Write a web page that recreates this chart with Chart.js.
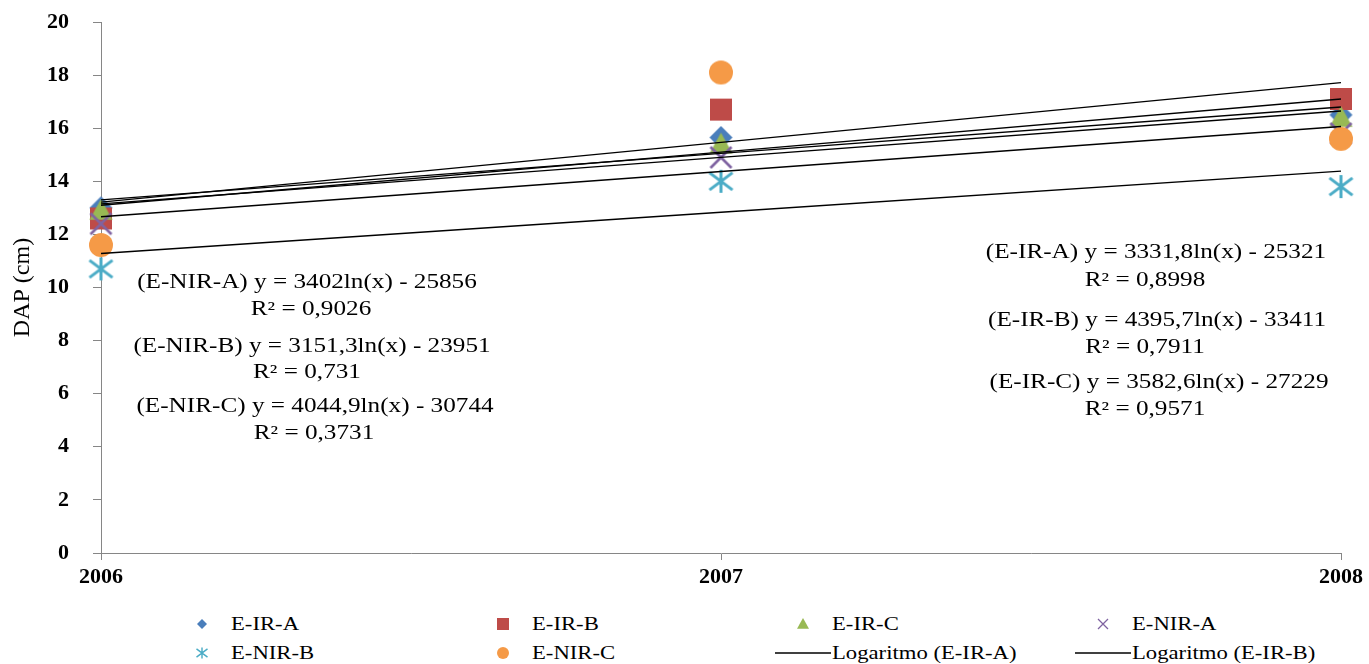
<!DOCTYPE html>
<html>
<head>
<meta charset="utf-8">
<script src="https://cdn.jsdelivr.net/npm/chart.js@4.4.1/dist/chart.umd.min.js"></script>
<style>
  html, body { margin: 0; padding: 0; background: #fff; overflow: hidden; width: 1369px; height: 664px; }
  #wrap { position: absolute; left: 0; top: 0; width: 1369px; height: 600px; }
  .legSym { position: absolute; }
  .legText { position: absolute; font: 18px 'Liberation Serif', 'Times New Roman', serif; color: #000;
             white-space: nowrap; line-height: 22px; transform: scaleX(1.26); transform-origin: left center; }
</style>
</head>
<body>
<div id="wrap"><canvas id="chartDap"></canvas></div>
<div id="legend"></div>
<script>
// data
var years = [2006, 2007, 2008];
var seriesNames = ["E-IR-A", "E-IR-B", "E-IR-C", "E-NIR-A", "E-NIR-B", "E-NIR-C"];
var eIrA  = [13.0, 15.65, 16.5];
var eIrB  = [12.6, 16.7, 17.1];
var eIrC  = [12.9, 15.4, 16.4];
var eNirA = [12.4, 14.9, 15.8];
var eNirB = [10.7, 14.0, 13.8];
var eNirC = [11.6, 18.1, 15.6];
var seriesValues = [eIrA, eIrB, eIrC, eNirA, eNirB, eNirC];
var seriesColors = ["#4a7ebb", "#be4b48", "#98b954", "#7f63a1", "#4bacc6", "#f59a47"];
var seriesMarkers = ["diamond", "square", "triangle", "cross", "asterisk", "circle"];

var yMin = 0, yMax = 20, yStep = 2;
var yTitle = "DAP (cm)";

var noteTexts = [
  "(E-NIR-A) y = 3402ln(x) - 25856", "R\u00b2 = 0,9026",
  "(E-NIR-B) y = 3151,3ln(x) - 23951", "R\u00b2 = 0,731",
  "(E-NIR-C) y = 4044,9ln(x) - 30744", "R\u00b2 = 0,3731",
  "(E-IR-A) y = 3331,8ln(x) - 25321", "R\u00b2 = 0,8998",
  "(E-IR-B) y = 4395,7ln(x) - 33411", "R\u00b2 = 0,7911",
  "(E-IR-C) y = 3582,6ln(x) - 27229", "R\u00b2 = 0,9571"
];
// where the text boxes sit (pixels, centre x / middle y)
var notePlaces = [
  [307, 283], [311, 310], [312, 347], [307, 373], [315, 407], [314, 434],
  [1156, 253], [1145, 281], [1157, 321], [1145, 348], [1159, 383], [1145, 410]
];
var textStretch = 1.26;
var serif = "'Liberation Serif', 'Times New Roman', serif";

function drawMarker(ctx, kind, cx, cy, s, color) {
  ctx.fillStyle = color;
  ctx.strokeStyle = color;
  ctx.beginPath();
  if (kind == "diamond") {
    ctx.moveTo(cx, cy - s); ctx.lineTo(cx + s, cy); ctx.lineTo(cx, cy + s); ctx.lineTo(cx - s, cy);
    ctx.closePath(); ctx.fill();
  } else if (kind == "square") {
    ctx.fillRect(cx - s, cy - s, 2 * s, 2 * s);
  } else if (kind == "triangle") {
    ctx.moveTo(cx, cy - s); ctx.lineTo(cx + s, cy + s * 0.8); ctx.lineTo(cx - s, cy + s * 0.8);
    ctx.closePath(); ctx.fill();
  } else if (kind == "circle") {
    ctx.arc(cx, cy, s, 0, Math.PI * 2); ctx.fill();
  } else if (kind == "cross") {
    ctx.lineWidth = Math.max(1.2, s / 4);
    ctx.moveTo(cx - s, cy - s); ctx.lineTo(cx + s, cy + s);
    ctx.moveTo(cx + s, cy - s); ctx.lineTo(cx - s, cy + s);
    ctx.stroke();
  } else if (kind == "asterisk") {
    ctx.lineWidth = Math.max(1.2, s / 3.8);
    ctx.moveTo(cx, cy - s); ctx.lineTo(cx, cy + s);
    ctx.moveTo(cx - s, cy - s * 0.75); ctx.lineTo(cx + s, cy + s * 0.75);
    ctx.moveTo(cx + s, cy - s * 0.75); ctx.lineTo(cx - s, cy + s * 0.75);
    ctx.stroke();
  }
}

var plotSizes = { diamond: 11.5, square: 11, triangle: 11.5, circle: 12, cross: 10.5, asterisk: 11.5 };
var legendSizes = { diamond: 5, square: 6, triangle: 6, circle: 6, cross: 5, asterisk: 5.5 };

function markerCanvas(kind, s, color) {
  var c = document.createElement("canvas");
  var size = Math.ceil(2 * s + 4);
  c.width = size; c.height = size;
  drawMarker(c.getContext("2d"), kind, size / 2, size / 2, s, color);
  return c;
}

// logarithmic trend, as in the spreadsheet: y = a ln(x) + b
function logFit(xs, ys) {
  var lx = xs.map(function (x) { return Math.log(x); });
  var mx = lx.reduce(function (a, b) { return a + b; }, 0) / lx.length;
  var my = ys.reduce(function (a, b) { return a + b; }, 0) / ys.length;
  var sxy = 0, sxx = 0;
  for (var i = 0; i < lx.length; i++) {
    sxy += (lx[i] - mx) * (ys[i] - my);
    sxx += (lx[i] - mx) * (lx[i] - mx);
  }
  var a = sxy / sxx;
  return { a: a, b: my - a * mx };
}

var datasets = [];
seriesNames.forEach(function (name, i) {
  datasets.push({
    label: name,
    data: years.map(function (x, j) { return { x: x, y: seriesValues[i][j] }; }),
    showLine: false,
    pointStyle: markerCanvas(seriesMarkers[i], plotSizes[seriesMarkers[i]], seriesColors[i]),
    pointRadius: 12,
    clip: false,
    order: 20 - i
  });
});
seriesNames.forEach(function (name, i) {
  var fit = logFit(years, seriesValues[i]);
  datasets.push({
    label: "Logaritmo (" + name + ")",
    data: years.map(function (x) { return { x: x, y: fit.a * Math.log(x) + fit.b }; }),
    showLine: true,
    borderColor: "#000",
    borderWidth: 1.4,
    pointRadius: 0,
    tension: 0,
    clip: false,
    order: 6 - i
  });
});

var notesPlugin = {
  id: "notes",
  afterDatasetsDraw: function (chart) {
    var ctx = chart.ctx;
    ctx.save();
    ctx.font = "20px " + serif;
    ctx.fillStyle = "#000";
    ctx.textAlign = "center";
    ctx.textBaseline = "middle";
    noteTexts.forEach(function (t, i) {
      ctx.save();
      ctx.translate(notePlaces[i][0], notePlaces[i][1]);
      ctx.scale(textStretch, 1);
      ctx.fillText(t, 0, 0);
      ctx.restore();
    });
    ctx.restore();
  }
};

new Chart("chartDap", {
  type: "scatter",
  data: { datasets: datasets },
  plugins: [notesPlugin],
  options: {
    responsive: true,
    maintainAspectRatio: false,
    animation: false,
    events: [],
    layout: { padding: { top: 22, right: 28, left: 0, bottom: 0 } },
    plugins: { legend: { display: false }, tooltip: { enabled: false } },
    scales: {
      x: {
        type: "linear",
        min: years[0],
        max: years[years.length - 1],
        ticks: {
          stepSize: 1,
          callback: function (v) { return String(v); },
          color: "#000",
          padding: 4,
          maxRotation: 0,
          font: { family: serif, size: 22, weight: "bold" }
        },
        grid: { drawOnChartArea: false, color: "#868686", tickLength: 7 },
        border: { color: "#868686", width: 1 },
        afterFit: function (s) { s.height = 47; }
      },
      y: {
        min: yMin,
        max: yMax,
        ticks: {
          stepSize: yStep,
          color: "#000",
          padding: 24,
          font: { family: serif, size: 22, weight: "bold" }
        },
        grid: { drawOnChartArea: false, color: "#868686", tickLength: 8 },
        border: { color: "#868686", width: 1 },
        title: {
          display: true,
          text: yTitle,
          color: "#000",
          font: { family: serif, size: 24 },
          padding: { top: 8, bottom: 0 }
        },
        afterFit: function (s) {
          s.width = 101;
          s.paddingTop = 0;
          s.paddingBottom = 0;
        }
      }
    }
  }
});

// legend laid out like the spreadsheet one: 4 columns
var legendTextLeft = [231, 532, 832, 1132];
var legendRowTop = 624, legendRowGap = 29;
var legendBox = document.getElementById("legend");
datasets.forEach(function (ds, k) {
  var col = k % 4, row = Math.floor(k / 4);
  var cy = legendRowTop + row * legendRowGap;
  var sym = document.createElement("canvas");
  sym.className = "legSym";
  sym.width = 56; sym.height = 20;
  sym.style.left = (legendTextLeft[col] - 57) + "px";
  sym.style.top = (cy - 10) + "px";
  var sctx = sym.getContext("2d");
  if (k < seriesNames.length) {
    var kind = seriesMarkers[k];
    drawMarker(sctx, kind, 28, 10, legendSizes[kind], seriesColors[k]);
  } else {
    sctx.strokeStyle = "#000";
    sctx.lineWidth = 1.4;
    sctx.beginPath(); sctx.moveTo(0, 10); sctx.lineTo(56, 10); sctx.stroke();
  }
  legendBox.appendChild(sym);
  var txt = document.createElement("span");
  txt.className = "legText";
  txt.textContent = ds.label;
  txt.style.left = legendTextLeft[col] + "px";
  txt.style.top = (cy - 11) + "px";
  legendBox.appendChild(txt);
});
</script>
</body>
</html>
